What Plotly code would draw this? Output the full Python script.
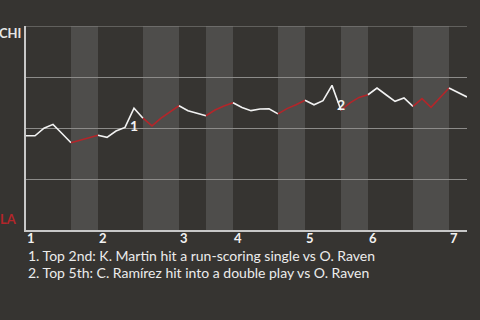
import plotly.graph_objects as go

# CHI win probability after each play (play index 0..49)
win_prob = [0.462, 0.462, 0.499, 0.518, 0.473, 0.428,
            0.441, 0.452, 0.464,
            0.454, 0.485, 0.503, 0.597, 0.548,
            0.510, 0.548, 0.580, 0.609,
            0.585, 0.572, 0.560,
            0.588, 0.608, 0.624,
            0.601, 0.585, 0.593, 0.594, 0.569,
            0.595, 0.614, 0.636,
            0.614, 0.634, 0.709, 0.587,
            0.623, 0.650, 0.663,
            0.696, 0.663, 0.631, 0.647, 0.606,
            0.644, 0.601, 0.650, 0.696,
            0.676, 0.652]

# play index where each half-inning starts (top 1st, bottom 1st, top 2nd, ...), last = end
half_inning_bounds = [0, 5, 8, 13, 17, 20, 23, 28, 31, 35, 38, 43, 47, 49]
inning_labels = ["1", "2", "3", "4", "5", "6", "7"]
team_top = "CHI"
team_bottom = "LA"
notes = ["1. Top 2nd: K. Martin hit a run-scoring single vs O. Raven",
         "2. Top 5th: C. Ramírez hit into a double play vs O. Raven"]
note_play_index = [12, 35]
note_label_shift = [-17, 6]

BG = "#363431"
BAND = "#4e4d4b"
WHITE = "#f2f2f2"
RED = "#b3262a"
GRID = "#8c8b89"
FONT = "Lato"

fig = go.Figure()

for k in range(len(half_inning_bounds) - 1):
    a, b = half_inning_bounds[k], half_inning_bounds[k + 1]
    xs = list(range(a, b + 1))
    ys = win_prob[a:b + 1]
    fig.add_trace(go.Scatter(x=xs, y=ys, mode="lines",
                             line=dict(color=WHITE if k % 2 == 0 else RED, width=1.6),
                             hoverinfo="skip", showlegend=False))
    if k % 2 == 1:
        fig.add_shape(type="rect", xref="x", yref="paper", x0=a, x1=b, y0=0, y1=1,
                      fillcolor=BAND, line=dict(width=0), layer="below")

# top gridline
fig.add_shape(type="line", xref="paper", yref="y", x0=0, x1=1, y0=1, y1=1,
              line=dict(color=GRID, width=1.2), layer="above")

# inning labels at start of each inning
for j, lab in enumerate(inning_labels):
    fig.add_annotation(x=half_inning_bounds[2 * j], xref="x", y=0, yref="paper",
                       text="<b>" + lab + "</b>", showarrow=False, xanchor="left",
                       yanchor="middle", xshift=-1, yshift=-8,
                       font=dict(family=FONT, size=13, color=WHITE))

# team labels
fig.add_annotation(x=0, xref="paper", y=1, yref="paper", text="<b>" + team_top + "</b>",
                   showarrow=False, xanchor="right", yanchor="middle", xshift=-3, yshift=-7,
                   font=dict(family=FONT, size=13, color="#e6e6e6"))
fig.add_annotation(x=0, xref="paper", y=0, yref="paper", text="<b>" + team_bottom + "</b>",
                   showarrow=False, xanchor="right", yanchor="middle", xshift=-7, yshift=11,
                   font=dict(family=FONT, size=13, color=RED))

# note markers
for n, idx in enumerate(note_play_index):
    fig.add_annotation(x=idx, y=win_prob[idx], text="<b>" + str(n + 1) + "</b>",
                       showarrow=False, yshift=note_label_shift[n],
                       font=dict(family=FONT, size=14, color=WHITE))

# footnotes
for n, t in enumerate(notes):
    fig.add_annotation(x=0, xref="paper", y=0, yref="paper", text=t, showarrow=False,
                       xanchor="left", yanchor="middle", yshift=-25 - 17 * n,
                       font=dict(family=FONT, size=14, color="#ececec"))

fig.update_layout(
    width=480, height=320, margin=dict(l=26, r=13, t=26, b=90),
    paper_bgcolor=BG, plot_bgcolor=BG,
    xaxis=dict(range=[0, 49], showgrid=False, zeroline=False, showticklabels=False,
               showline=True, linecolor="#c8c8c8", linewidth=1.5),
    yaxis=dict(range=[0, 1], tickvals=[0.25, 0.5, 0.75, 1.0], showgrid=True,
               gridcolor=GRID, gridwidth=1, zeroline=False, showticklabels=False,
               showline=True, linecolor="#c8c8c8", linewidth=1.5),
)
fig.write_html("out.html")
